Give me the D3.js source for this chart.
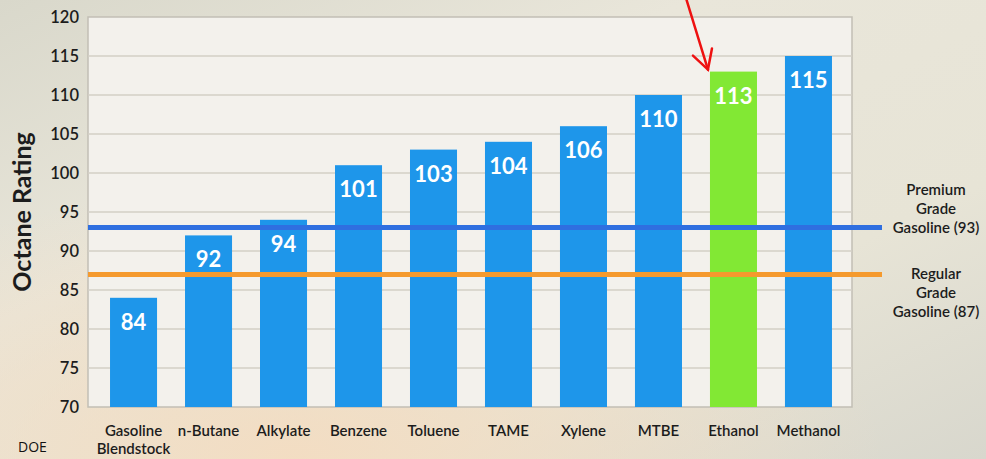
<!DOCTYPE html>
<html>
<head>
<meta charset="utf-8">
<script src="https://cdn.jsdelivr.net/npm/d3@7"></script>
<style>
  html, body { margin: 0; padding: 0; }
  body { width: 986px; height: 459px; overflow: hidden; font-family: Lato, "Open Sans", sans-serif; }
</style>
</head>
<body>
<div id="chart"></div>
<script>
const categories = ['Gasoline\nBlendstock', 'n-Butane', 'Alkylate', 'Benzene', 'Toluene', 'TAME', 'Xylene', 'MTBE', 'Ethanol', 'Methanol'];
const octane = [84, 92, 94, 101, 103, 104, 106, 110, 113, 115];
const yTicks = [70, 75, 80, 85, 90, 95, 100, 105, 110, 115, 120];
const refValues = [93, 87];
const refLabels = [['Premium', 'Grade', 'Gasoline (93)'], ['Regular', 'Grade', 'Gasoline (87)']];
const highlight = 'Ethanol';

const COLORS = {
  bar: '#1e96ea',
  highlight: '#82e834',
  grid: '#d3cfc6',
  frame: '#c2beb5',
  plot: '#f3f1ec',
  text: '#1c1c1c',
  refs: ['#2f6fe0', '#f59a2e']
};

const W = 986, H = 459;
const plot = { left: 88, right: 852, top: 17, bottom: 407 };

const svg = d3.select('#chart').append('svg')
  .attr('width', W)
  .attr('height', H);

// background, photo-ish beige wash
const defs = svg.append('defs');
const bg = defs.append('linearGradient').attr('id', 'bg').attr('x1', 0).attr('y1', 0).attr('x2', 1).attr('y2', 1);
bg.append('stop').attr('offset', '0%').attr('stop-color', '#d9d8cb');
bg.append('stop').attr('offset', '35%').attr('stop-color', '#e9e6da');
bg.append('stop').attr('offset', '70%').attr('stop-color', '#e7e4d6');
bg.append('stop').attr('offset', '100%').attr('stop-color', '#d8d7cd');
const warm = defs.append('radialGradient').attr('id', 'warm').attr('cx', 0.3).attr('cy', 1).attr('r', 0.6);
warm.append('stop').attr('offset', '0%').attr('stop-color', '#f4dcc0').attr('stop-opacity', 0.9);
warm.append('stop').attr('offset', '100%').attr('stop-color', '#f4dcc0').attr('stop-opacity', 0);

svg.append('rect').attr('width', W).attr('height', H).attr('fill', 'url(#bg)');
svg.append('rect').attr('width', W).attr('height', H).attr('fill', 'url(#warm)');

const x = d3.scaleBand()
  .domain(categories)
  .range([96, 846])
  .paddingInner(0.373)
  .paddingOuter(0.187);

const y = d3.scaleLinear()
  .domain([70, 120])
  .range([plot.bottom, plot.top]);

// plot area
svg.append('rect')
  .attr('x', plot.left).attr('y', plot.top)
  .attr('width', plot.right - plot.left).attr('height', plot.bottom - plot.top)
  .attr('fill', COLORS.plot)
  .attr('stroke', COLORS.frame)
  .attr('stroke-width', 1.5);

svg.append('g')
  .selectAll('line')
  .data(yTicks.slice(1, -1))
  .enter()
  .append('line')
  .attr('x1', plot.left).attr('x2', plot.right)
  .attr('y1', d => y(d)).attr('y2', d => y(d))
  .attr('stroke', COLORS.grid)
  .attr('stroke-width', 1.5);

// y axis labels
const yAxis = svg.append('g')
  .attr('transform', `translate(${plot.left},0)`)
  .call(d3.axisLeft(y).tickValues(yTicks).tickSize(0).tickPadding(9));
yAxis.select('.domain').remove();
yAxis.selectAll('text')
  .attr('font-family', 'Lato, sans-serif')
  .attr('font-size', 16.5)
  .attr('font-weight', 600)
  .attr('fill', COLORS.text);

svg.append('text')
  .attr('transform', `translate(31,${(plot.top + plot.bottom) / 2}) rotate(-90)`)
  .attr('text-anchor', 'middle')
  .attr('font-size', 25)
  .attr('font-weight', 700)
  .attr('fill', COLORS.text)
  .text('Octane Rating');

// bars
const bars = svg.append('g');
bars.selectAll('rect')
  .data(octane)
  .enter()
  .append('rect')
  .attr('x', (d, i) => x(categories[i]))
  .attr('y', d => y(d))
  .attr('width', x.bandwidth())
  .attr('height', d => y(70) - y(d))
  .attr('fill', (d, i) => categories[i] === highlight ? COLORS.highlight : COLORS.bar);

bars.selectAll('text')
  .data(octane)
  .enter()
  .append('text')
  .attr('x', (d, i) => x(categories[i]) + x.bandwidth() / 2)
  .attr('y', d => y(d) + 32)
  .attr('text-anchor', 'middle')
  .attr('font-size', 22)
  .attr('font-weight', 700)
  .attr('fill', '#fff')
  .text(d => d);

// reference lines
const refs = svg.append('g');
refs.selectAll('line')
  .data(refValues)
  .enter()
  .append('line')
  .attr('x1', plot.left).attr('x2', 882)
  .attr('y1', d => y(d)).attr('y2', d => y(d))
  .attr('stroke', (d, i) => COLORS.refs[i])
  .attr('stroke-width', 5);

// premium label sits above its line, regular label hangs below its line
const refLabel = refs.selectAll('text')
  .data(refValues)
  .enter()
  .append('text')
  .attr('x', 936)
  .attr('y', (d, i) => y(d) + 5 + (i === 0 ? -38 : 0))
  .attr('text-anchor', 'middle')
  .attr('font-size', 15)
  .attr('font-weight', 600)
  .attr('fill', COLORS.text);
refLabel.selectAll('tspan')
  .data((d, i) => refLabels[i])
  .enter()
  .append('tspan')
  .attr('x', 936)
  .attr('dy', (d, i) => i === 0 ? 0 : 19)
  .text(d => d);

// category labels
const cat = svg.append('g').selectAll('text')
  .data(categories)
  .enter()
  .append('text')
  .attr('x', d => x(d) + x.bandwidth() / 2)
  .attr('y', 436)
  .attr('text-anchor', 'middle')
  .attr('font-size', 15)
  .attr('font-weight', 600)
  .attr('fill', COLORS.text);
cat.selectAll('tspan')
  .data(d => d.split('\n'))
  .enter()
  .append('tspan')
  .attr('x', function() { return d3.select(this.parentNode).attr('x'); })
  .attr('dy', (d, i) => i === 0 ? 0 : 18)
  .text(d => d);

// red arrow pointing at Ethanol
const tipX = x('Ethanol') - 2, tipY = y(113) - 2;
const arrow = svg.append('g')
  .attr('stroke', '#ee1111')
  .attr('stroke-width', 2.5)
  .attr('fill', 'none')
  .attr('stroke-linecap', 'round');
arrow.append('line').attr('x1', tipX - 22).attr('y1', -2).attr('x2', tipX).attr('y2', tipY);
arrow.append('polyline')
  .attr('points', `${tipX - 15},${tipY - 14} ${tipX},${tipY} ${tipX + 4},${tipY - 21}`);

svg.append('text')
  .attr('x', 18).attr('y', 452)
  .attr('font-family', '"Open Sans", sans-serif')
  .attr('font-size', 14)
  .attr('fill', '#111')
  .text('DOE');
</script>
</body>
</html>
